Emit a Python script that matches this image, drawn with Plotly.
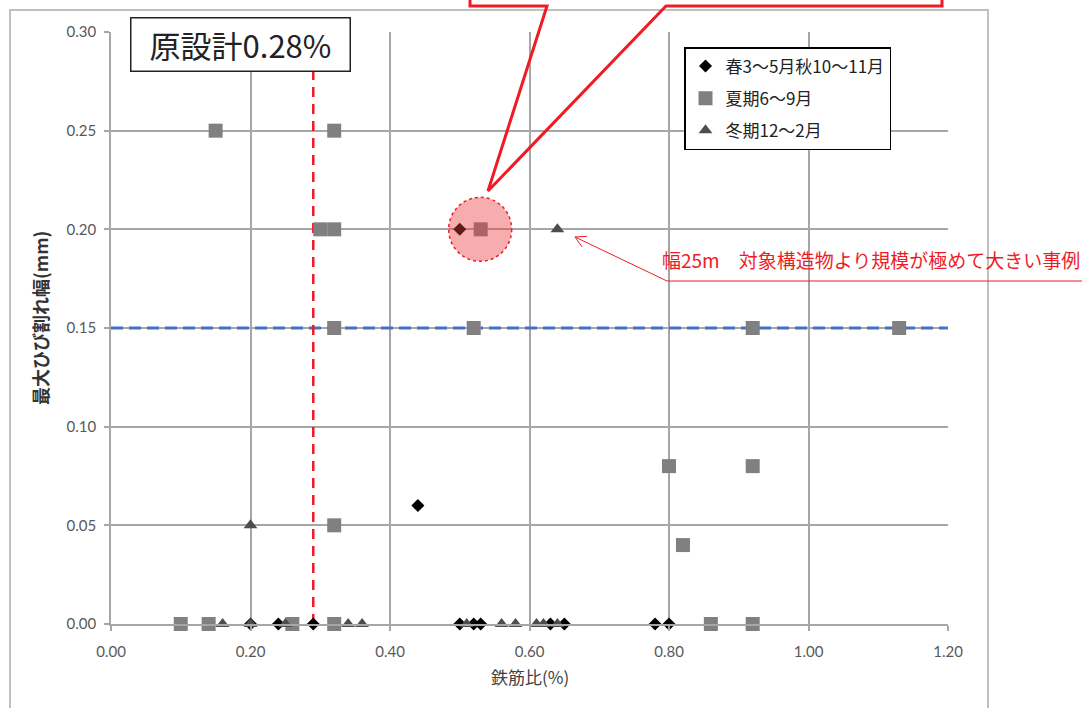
import math
import plotly.graph_objects as go

# =============================================================================
# DATA
# =============================================================================

SERIES_NAMES = ["春3～5月秋10～11月", "夏期6～9月", "冬期12～2月"]

SPRING_X = [0.50, 0.44, 0.20, 0.24, 0.29, 0.50, 0.52, 0.53, 0.63, 0.65, 0.78, 0.80]
SPRING_Y = [0.20, 0.06, 0.00, 0.00, 0.00, 0.00, 0.00, 0.00, 0.00, 0.00, 0.00, 0.00]

SUMMER_X = [0.15, 0.32, 0.30, 0.32, 0.53, 0.32, 0.52, 0.92, 1.13, 0.80, 0.92, 0.82, 0.32,
            0.10, 0.14, 0.26, 0.32, 0.86, 0.92]
SUMMER_Y = [0.25, 0.25, 0.20, 0.20, 0.20, 0.15, 0.15, 0.15, 0.15, 0.08, 0.08, 0.04, 0.05,
            0.00, 0.00, 0.00, 0.00, 0.00, 0.00]

WINTER_X = [0.64, 0.20, 0.16, 0.20, 0.25, 0.34, 0.36, 0.51, 0.56, 0.58, 0.61, 0.62, 0.64]
WINTER_Y = [0.20, 0.05, 0.00, 0.00, 0.00, 0.00, 0.00, 0.00, 0.00, 0.00, 0.00, 0.00, 0.00]

X_RANGE = [0.0, 1.2]
Y_RANGE = [0.0, 0.30]
X_TICKS = [0.00, 0.20, 0.40, 0.60, 0.80, 1.00, 1.20]
Y_TICKS = [0.00, 0.05, 0.10, 0.15, 0.20, 0.25, 0.30]

DESIGN_RATIO = 0.29        # 原設計 (red dashed line)
LIMIT_WIDTH = 0.15         # blue dashed line
HIGHLIGHT_IDX = 4          # summer point inside the pink circle

# =============================================================================
# LAYOUT HELPERS (page pixel -> paper)
# =============================================================================

W, H = 1087, 708
ML, MT = 111, 32
PW, PH = 837, 592
MR, MB = W - ML - PW, H - MT - PH


def px(x):
    return (x - ML) / PW


def py(y):
    return (MT + PH - y) / PH


JP = "Noto Sans CJK JP"
RED = "#ee1c25"
GRID = "#a6a6a6"

fig = go.Figure()

fig.add_trace(go.Scatter(
    x=SPRING_X, y=SPRING_Y, mode="markers", name=SERIES_NAMES[0],
    legendgroup="a",
    marker=dict(symbol="diamond", size=10, color="#000000"),
    cliponaxis=False,
))
fig.add_trace(go.Scatter(
    x=SUMMER_X, y=SUMMER_Y, mode="markers", name=SERIES_NAMES[1],
    legendgroup="b",
    marker=dict(symbol="square", size=14, color="#808080"),
    cliponaxis=False,
))
fig.add_trace(go.Scatter(
    x=WINTER_X, y=WINTER_Y, mode="markers", name=SERIES_NAMES[2],
    legendgroup="c",
    marker=dict(symbol="triangle-up", size=12, color="#4d4d4d"),
    cliponaxis=False,
))

shapes = []

# outer chart frame
shapes.append(dict(type="rect", xref="paper", yref="paper",
                   x0=px(10), x1=px(988), y0=py(730), y1=py(10),
                   line=dict(color="#c0c0c0", width=2), layer="below"))

# 0.15 mm line
shapes.append(dict(type="line", xref="x", yref="y",
                   x0=X_RANGE[0], x1=X_RANGE[1], y0=LIMIT_WIDTH, y1=LIMIT_WIDTH,
                   line=dict(color="#4472c4", width=3, dash="12px,6px"), layer="between"))

# original design reinforcement ratio
shapes.append(dict(type="line", xref="x", yref="y",
                   x0=DESIGN_RATIO, x1=DESIGN_RATIO, y0=Y_RANGE[0], y1=Y_RANGE[1],
                   line=dict(color=RED, width=2.5, dash="10px,7px"), layer="between"))

# pink circle around the highlighted point
shapes.append(dict(type="circle", xref="x", yref="y",
                   xsizemode="pixel", ysizemode="pixel",
                   xanchor=SUMMER_X[HIGHLIGHT_IDX], yanchor=SUMMER_Y[HIGHLIGHT_IDX],
                   x0=-32, x1=31, y0=-32, y1=32,
                   fillcolor="rgba(235,60,60,0.42)",
                   line=dict(color=RED, width=1.5, dash="dot"), layer="above"))

# callout balloon (cut off at the top of the picture)
callout = (f"M{px(470)},{py(-20)} L{px(470)},{py(6)} L{px(547)},{py(6)} "
           f"L{px(488)},{py(191)} L{px(666)},{py(6)} L{px(942)},{py(6)} L{px(942)},{py(-20)}")
shapes.append(dict(type="path", xref="paper", yref="paper", path=callout,
                   line=dict(color=RED, width=3)))

# note: underline + arrow with open head
tail = (667, 281)
head = (575, 237)
shapes.append(dict(type="line", xref="paper", yref="paper",
                   x0=px(tail[0]), x1=px(1082), y0=py(tail[1]), y1=py(tail[1]),
                   line=dict(color=RED, width=1)))
ang = math.atan2(tail[1] - head[1], tail[0] - head[0])
wing = []
for d in (-0.5, 0.5):
    wing.append((head[0] + 12 * math.cos(ang + d), head[1] + 12 * math.sin(ang + d)))
arrow = (f"M{px(tail[0])},{py(tail[1])} L{px(head[0])},{py(head[1])} "
         f"M{px(wing[0][0])},{py(wing[0][1])} L{px(head[0])},{py(head[1])} "
         f"L{px(wing[1][0])},{py(wing[1][1])}")
shapes.append(dict(type="path", xref="paper", yref="paper", path=arrow,
                   line=dict(color=RED, width=1)))

annotations = []

annotations.append(dict(
    x=px(660), y=py(259), xref="paper", yref="paper", xanchor="left", yanchor="middle",
    text="幅25m\u3000対象構造物より規模が極めて大きい事例", showarrow=False,
    font=dict(family=JP, size=19, color=RED),
))

annotations.append(dict(
    x=px(240), y=py(45), xref="paper", yref="paper", xanchor="center", yanchor="middle",
    text="原設計0.28%", showarrow=False,
    font=dict(family=JP, size=31, color="#222222"),
    bgcolor="#ffffff", bordercolor="#222222", borderwidth=1.5,
    width=216, height=50, borderpad=1,
))

# axis titles
annotations.append(dict(
    x=px(530), y=py(676), xref="paper", yref="paper", xanchor="center", yanchor="middle",
    text="鉄筋比(%)", showarrow=False,
    font=dict(family=JP, size=17, color="#404040"),
))
annotations.append(dict(
    x=px(40), y=py(318), xref="paper", yref="paper", xanchor="center", yanchor="middle",
    textangle=-90,
    text="<b>最大ひび割れ幅(mm)</b>", showarrow=False,
    font=dict(family=JP, size=18, color="#333333"),
))

fig.update_layout(
    width=W, height=H,
    margin=dict(l=ML, r=MR, t=MT, b=MB, pad=0),
    paper_bgcolor="#ffffff", plot_bgcolor="#ffffff",
    shapes=shapes, annotations=annotations,
    showlegend=True,
    legend=dict(
        x=px(684), y=py(47), xanchor="left", yanchor="top",
        bgcolor="#ffffff", bordercolor="#000000", borderwidth=1.5,
        font=dict(family=JP, size=17, color="#222222"),
        traceorder="grouped", tracegroupgap=7, itemwidth=30,
    ),
    xaxis=dict(
        range=X_RANGE, tickvals=X_TICKS, tickformat=".2f",
        showgrid=True, gridcolor=GRID, gridwidth=1.5,
        showline=True, linecolor=GRID, linewidth=1.5,
        ticks="outside", ticklen=5, tickcolor=GRID, tickwidth=1.5,
        ticklabelstandoff=8,
        zeroline=False,
        tickfont=dict(family="Lato", size=15, color="#595959"),
    ),
    yaxis=dict(
        range=Y_RANGE, tickvals=Y_TICKS, tickformat=".2f",
        showgrid=True, gridcolor=GRID, gridwidth=1.5,
        showline=True, linecolor=GRID, linewidth=1.5,
        ticks="outside", ticklen=5, tickcolor=GRID, tickwidth=1.5,
        ticklabelstandoff=5,
        zeroline=False,
        tickfont=dict(family="Lato", size=15, color="#595959"),
    ),
)

# page body has an 8px default margin; remove it so the figure sits at (0,0)
fig.write_html("out.html", config={"displayModeBar": False},
               post_script="document.body.style.margin='0';")
